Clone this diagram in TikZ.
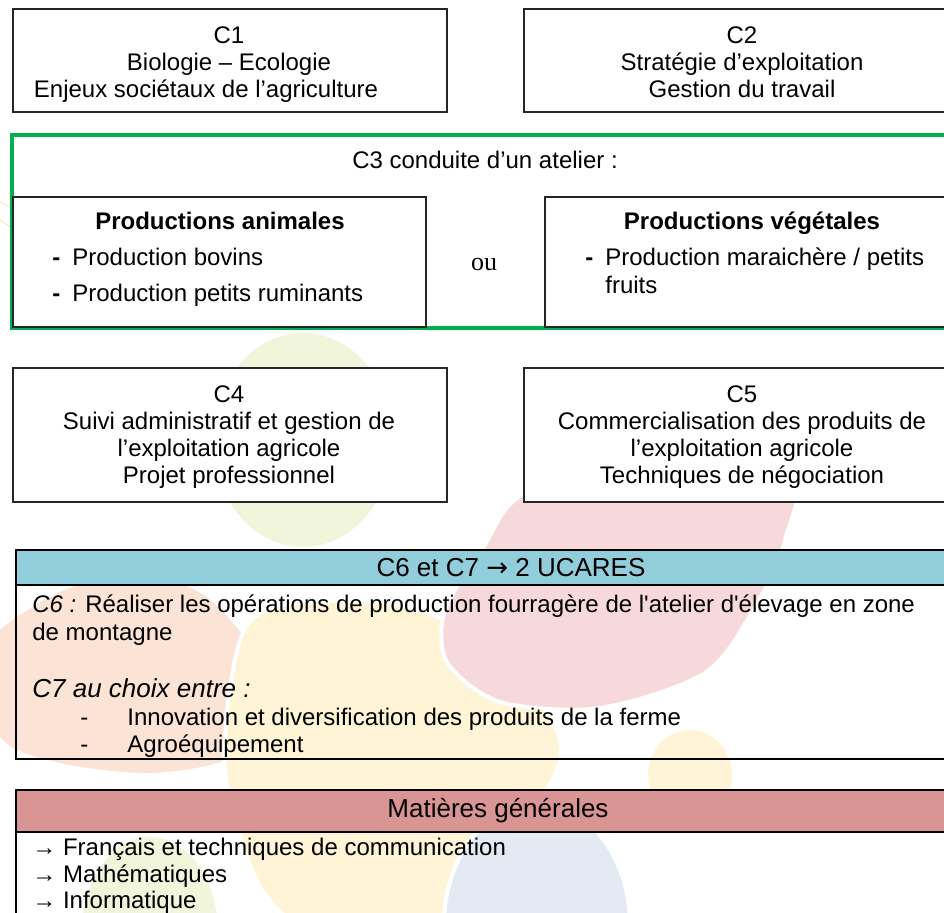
\documentclass[tikz,border=0pt]{standalone}
\usepackage{fontspec}
\setmainfont{Liberation Sans}
\newfontfamily\oufont{Liberation Serif}
\newfontfamily\flechefont{DejaVu Sans}

\definecolor{cadregreen}{HTML}{00B050}
\definecolor{headblue}{HTML}{92CDDC}
\definecolor{headred}{HTML}{D99594}
\definecolor{blobpeach}{HTML}{FBE4D5}
\definecolor{blobyellow}{HTML}{FFF4D5}
\definecolor{blobpink}{HTML}{F8D9DB}
\definecolor{blobgreen}{HTML}{F0F5DC}
\definecolor{blobblue}{HTML}{E3EAF3}

\tikzset{
	box/.style={draw=black!85, line width=0.75pt, fill=white},
	tabline/.style={draw=black, line width=1pt},
	blob/.style={draw=white, line width=2pt},
	txt/.style={inner sep=0pt, align=center, font=\fontsize{12}{13.5}\selectfont},
	ltxt/.style={inner sep=0pt, anchor=base west, font=\fontsize{12}{13.5}\selectfont},
	head/.style={inner sep=0pt, anchor=base, font=\fontsize{13}{15}\selectfont},
}

\begin{document}
\begin{tikzpicture}[x=0.5pt, y=-0.5pt]
			%%%%% START %%%%%
			\useasboundingbox (0, 0) rectangle (944, 912);
			\clip (0, 0) rectangle (944, 912);
			
			% logo in the background
			\fill[blobgreen] (303, 440) ellipse (90 and 107);
			\filldraw[blob, fill=blobpeach] plot[smooth cycle] coordinates {(-30, 660) (40, 600) (120, 572) (200, 590) (255, 650) (262, 710) (230, 760) (150, 775) (60, 765) (0, 740)};
			\filldraw[blob, fill=blobyellow] plot[smooth cycle] coordinates {(283, 605) (400, 605) (500, 650) (560, 740) (540, 800) (470, 880) (440, 930) (330, 940) (262, 890) (225, 770) (240, 640)};
			\filldraw[blob, fill=blobpink] plot[smooth cycle] coordinates {(640, 462) (790, 468) (785, 540) (755, 607) (705, 673) (600, 708) (500, 702) (447, 662) (445, 610) (483, 548) (522, 495)};
			\fill[blobyellow] (690, 775) ellipse (42 and 45);
			\filldraw[blob, fill=blobblue] (537, 925) ellipse (93 and 122);
			\fill[blobgreen] (150, 932) ellipse (68 and 95);
			\draw[blobyellow!80!orange, line width=0.4pt] (0, 202) -- (10, 207);
			\draw[blobyellow!80!orange, line width=0.4pt] (0, 220) -- (10, 227);
			
			% C1 and C2
			\draw[box] (13, 9) rectangle (447, 112);
			\node[txt] (c1) at (229, 65) {C1\\Biologie – Ecologie\\Enjeux sociétaux de l’agriculture\hspace*{23pt}};
			\draw[box] (524, 9) rectangle (960, 112);
			\node[txt] (c2) at (742, 62) {C2\\Stratégie d’exploitation\\Gestion du travail};
			
			% C3
			\draw[cadregreen, line width=1.75pt] (12, 135) rectangle (960, 328);
			\node[txt, anchor=base] (c3) at (485, 168) {C3 conduite d’un atelier :};
			
			\draw[box] (13, 197) rectangle (426, 327);
			\node[txt, anchor=base, font=\fontsize{12}{13.5}\bfseries] (anim) at (220, 229) {Productions animales};
			\node[ltxt, font=\fontsize{12}{13.5}\bfseries] (animtiret1) at (52, 265) {-};
			\node[ltxt] (bovins) at (72, 265) {Production bovins};
			\node[ltxt, font=\fontsize{12}{13.5}\bfseries] (animtiret2) at (52, 301) {-};
			\node[ltxt] (ruminants) at (72, 301) {Production petits ruminants};
			
			\node[inner sep=0pt, anchor=base, font=\oufont\fontsize{13}{15}\selectfont] (ou) at (484, 270) {ou};
			
			\draw[box] (545, 197) rectangle (960, 327);
			\node[txt, anchor=base, font=\fontsize{12}{13.5}\bfseries] (veg) at (752, 229) {Productions végétales};
			\node[ltxt, font=\fontsize{12}{13.5}\bfseries] (vegtiret) at (585, 265) {-};
			\node[ltxt] (maraich) at (605, 265) {Production maraichère / petits};
			\node[ltxt] (fruits) at (605, 293) {fruits};
			
			% C4 and C5
			\draw[box] (13, 368) rectangle (447, 502);
			\node[txt] (c4) at (229, 437) {C4\\Suivi administratif et gestion de\\l’exploitation agricole\\Projet professionnel};
			\draw[box] (524, 368) rectangle (960, 502);
			\node[txt] (c5) at (742, 437) {C5\\Commercialisation des produits de\\l’exploitation agricole\\Techniques de négociation};
			
			% C6 et C7
			\filldraw[tabline, fill=headblue] (16, 550) rectangle (960, 585);
			\draw[tabline] (16, 585) rectangle (960, 759);
			\node[head] (ucares) at (511, 576) {C6 et C7 {\flechefont →} 2 UCARES};
			\node[ltxt] (c6a) at (32, 612) {{\itshape C6 :} Réaliser les opérations de production fourragère de l\textquotesingle atelier d\textquotesingle élevage en zone};
			\node[ltxt] (c6b) at (32, 640) {de montagne};
			\node[ltxt, font=\fontsize{13}{15}\itshape] (c7) at (32, 697) {C7 au choix entre :};
			\node[ltxt] (tiret1) at (80, 725) {-};
			\node[ltxt] (innov) at (127, 725) {Innovation et diversification des produits de la ferme};
			\node[ltxt] (tiret2) at (80, 752) {-};
			\node[ltxt] (agro) at (127, 752) {Agroéquipement};
			
			% Matieres generales
			\filldraw[tabline, fill=headred] (16, 790) rectangle (960, 832);
			\draw[tabline] (16, 832) rectangle (960, 960);
			\node[head] (matieres) at (498, 817) {Matières générales};
			\node[ltxt] (francais) at (32, 855) {→ Français et techniques de communication};
			\node[ltxt] (maths) at (32, 882) {→ Mathématiques};
			\node[ltxt] (info) at (32, 908) {→ Informatique};
			
			%%%%% END %%%%%
\end{tikzpicture}
\end{document}
